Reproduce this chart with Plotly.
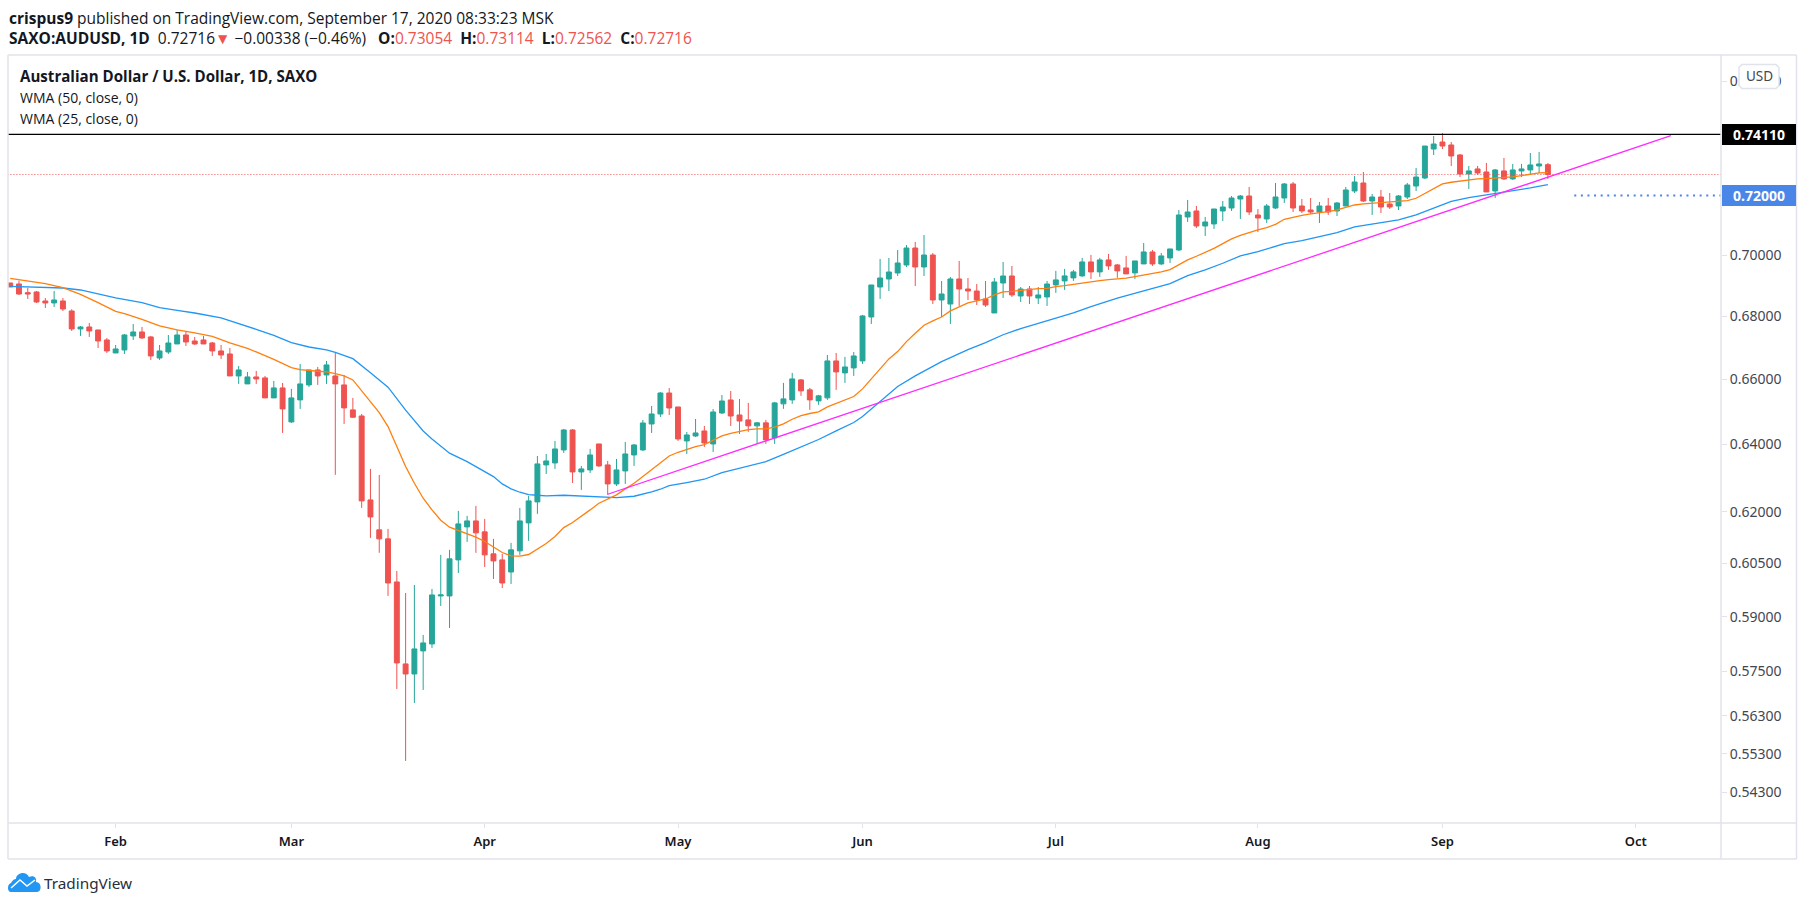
import pandas as pd
import plotly.graph_objects as go

# bars, 2020-01-16 .. 2020-09-17, prices
opens = [.6908, .69048, .68765, .68787, .68495, .68431, .68495, .68172, .67595, .67658, .67563, .67244, .66832, .66927, .67372, .67499,
         .67340, .66674, .66864, .67117, .67403, .67212, .67244, .67148, .66896, .66801, .66110, .65861, .66079, .66048, .65427, .65737,
         .64689, .65366, .65830, .66298, .66141, .66110, .65830, .65057, .64870, .62347, .61470, .61209, .59975, .57695, .57422, .58051,
         .58243, .59580, .59580, .60604, .61557, .61731, .61412, .60777, .60604, .60258, .60863, .61673, .62288, .63387, .63446, .63837,
         .64443, .63177, .63237, .64018, .63387, .62820, .63207, .63686, .63837, .64626, .64932, .65579, .65147, .64109, .64260, .64413,
         .64018, .64962, .65363, .64901, .64751, .64568, .64660, .64202, .65243, .65366, .65987, .65676, .65335, .65428, .66581, .66205,
         .66361, .66581, .67979, .68949, .69211, .69408, .69671, .70232, .69605, .70000, .68527, .68397, .69211, .68884, .68819, .68560,
         .68108, .69080, .69309, .68657, .68884, .68592, .68625, .69018, .69148, .69247, .69312, .69771, .69443, .69837, .69672, .69574,
         .69410, .69705, .70101, .69705, .69903, .70167, .71270, .71472, .70967, .71035, .71472, .71573, .71878, .71980, .71337, .71203,
         .71573, .71912, .72390, .71641, .71506, .71438, .71641, .71472, .71641, .72151, .72424, .71810, .71946, .71709, .71641, .71946,
         .72321, .72595, .73597, .73841, .73737, .73390, .72734, .72907, .72803, .72152, .72838, .72563, .72838, .72872, .73010, .73054]
highs = [.6908, .69156, .68917, .68819, .68592, .68819, .68592, .68226, .67690, .67787, .67563, .67308, .67085, .67435, .67755, .67658,
         .67372, .67085, .67403, .67563, .67499, .67340, .67372, .67180, .67085, .66990, .66423, .66235, .66266, .66110, .65954, .65892,
         .65706, .66486, .66298, .66392, .66580, .66864, .66141, .65427, .64932, .63267, .63087, .61499, .60287, .59664, .59890, .58491,
         .59776, .60748, .60892, .62024, .61878, .62171, .61790, .61209, .60777, .61094, .62112, .62465, .63656, .63716, .64109, .64474,
         .64474, .63357, .63867, .64018, .63506, .63566, .64079, .64018, .64748, .65178, .65610, .65734, .65147, .64382, .64779, .64565,
         .65085, .65517, .65641, .65394, .65273, .64690, .64751, .65304, .65893, .66205, .66017, .65738, .65521, .66770, .66833, .66707,
         .66864, .68044, .69015, .69868, .69901, .70166, .70332, .70432, .70665, .70066, .69146, .69277, .69803, .69244, .69047, .69146,
         .69244, .69770, .69638, .68949, .68982, .68949, .69146, .69476, .69540, .69509, .69903, .70002, .69903, .70035, .69705, .69969,
         .69804, .70399, .70167, .70068, .70200, .71506, .71844, .71641, .71270, .71540, .71810, .71980, .72014, .72287, .71540, .71709,
         .72424, .72424, .72458, .71878, .71912, .71777, .71912, .71777, .72287, .72664, .72802, .72048, .72185, .72082, .72014, .72424,
         .72939, .73701, .74051, .74156, .73842, .73425, .73010, .73010, .73114, .72907, .73286, .73079, .73079, .73459, .73494, .73114]
lows = [.6895, .68689, .68560, .68431, .68269, .68301, .68172, .67531, .67372, .67340, .66990, .66832, .66832, .66801, .67244, .67276,
        .66611, .66611, .66801, .67117, .67053, .67085, .67117, .66738, .66643, .66110, .65861, .65861, .65861, .65427, .65427, .64354,
        .64658, .65088, .65768, .65830, .65861, .63090, .64628, .64811, .62112, .61238, .60806, .59580, .57017, .55109, .56641, .56990,
        .58133, .59299, .58685, .60230, .61122, .60806, .60402, .60060, .59805, .59918, .60748, .61151, .61936, .63117, .63267, .63747,
        .62850, .62642, .63147, .63327, .62495, .62761, .62820, .63357, .63807, .64352, .64840, .64901, .64109, .63716, .64230, .63928,
        .63777, .64932, .64565, .64321, .64385, .64019, .64019, .64019, .65089, .65243, .65490, .65058, .65212, .65366, .65676, .65893,
        .66111, .66487, .67755, .68560, .68819, .69309, .69605, .68982, .69309, .68397, .67979, .67755, .68333, .68527, .68365, .68301,
        .68108, .68592, .68625, .68462, .68397, .68397, .68333, .68757, .68855, .69148, .69279, .69214, .69279, .69509, .69247, .69378,
        .69214, .69705, .69640, .69672, .69738, .70134, .71102, .70900, .70633, .70867, .71135, .71472, .71203, .71337, .70766, .71068,
        .71540, .71743, .71438, .71404, .71371, .71068, .71337, .71303, .71641, .72082, .71777, .71337, .71404, .71540, .71506, .71878,
        .72151, .72560, .73389, .73597, .73010, .72631, .72220, .72700, .72118, .71914, .72529, .72529, .72631, .72700, .72769, .72562]
closes = [.6895, .68721, .68721, .68463, .68431, .68527, .68236, .67595, .67658, .67531, .67212, .66896, .66959, .67403, .67499, .67308,
          .66738, .66896, .67148, .67403, .67180, .67117, .67117, .66896, .66769, .66110, .66298, .66079, .66016, .65427, .65737, .65088,
          .65427, .65861, .66298, .66110, .66455, .65861, .65119, .64831, .62318, .61848, .61209, .59946, .57722, .57422, .58106, .58271,
          .59608, .59608, .60633, .61644, .61731, .61383, .60748, .60575, .59946, .60892, .61731, .62318, .63417, .63506, .63867, .64443,
          .63177, .63267, .63686, .63357, .62820, .63237, .63716, .63988, .64656, .64932, .65579, .65116, .64169, .64291, .64352, .64048,
          .64993, .65332, .64870, .64717, .64568, .64660, .64141, .65273, .65397, .66017, .65645, .65366, .65490, .66581, .66236, .66392,
          .66738, .68012, .69015, .69244, .69440, .69737, .70232, .69605, .70000, .68527, .68722, .69211, .68884, .68819, .68527, .68365,
          .69113, .69309, .68690, .68884, .68657, .68690, .69047, .69181, .69312, .69443, .69771, .69443, .69837, .69640, .69476, .69378,
          .69804, .70101, .69705, .69969, .70200, .71337, .71438, .70967, .71102, .71540, .71607, .71912, .71980, .71438, .71236, .71641,
          .71946, .72390, .71573, .71472, .71438, .71641, .71438, .71743, .72185, .72458, .71810, .71946, .71607, .71607, .71980, .72356,
          .72629, .73701, .73771, .73701, .73355, .72734, .72838, .72769, .72118, .72872, .72563, .72872, .72907, .73045, .73079, .72716]

# (bar number, value)
wma25_bars = [1, 3, 5, 7, 9, 11, 13, 14, 16, 18, 20, 22, 24, 26, 28, 29, 31, 33, 34, 36, 37, 38, 39, 40, 41, 42, 43, 44, 45, 46, 47, 48, 49, 50,
              51, 52, 53, 54, 55, 56, 57, 58, 59, 60, 61, 62, 63, 64, 65, 66, 67, 68, 69, 70, 71, 72, 73, 74, 75, 76, 77, 78, 79, 80, 81, 82, 83, 84,
              85, 86, 87, 88, 89, 90, 91, 92, 93, 94, 95, 96, 97, 98, 99, 100, 101, 102, 103, 104, 105, 106, 107, 108, 109, 110, 111, 112, 113, 114,
              115, 116, 117, 118, 119, 120, 121, 122, 123, 124, 125, 126, 127, 128, 129, 130, 131, 132, 133, 134, 135, 136, 137, 138, 139, 140, 141,
              142, 143, 144, 145, 146, 147, 148, 149, 150, 151, 152, 153, 154, 155, 156, 157, 158, 159, 160, 161, 162, 163, 164, 165, 166, 167, 168,
              169, 170, 171, 172, 173, 174, 175, 176]
wma25_vals = [.69233, .69156, .69058, .68928, .68711, .68441, .68161, .68086, .67905, .67690, .67563, .67467, .67361, .67148, .66979, .66864,
              .66632, .66371, .66308, .66256, .66235, .66183, .66110, .65985, .65654, .65314, .64975, .64546, .63940, .63339, .62840, .62396,
              .62053, .61751, .61547, .61450, .61373, .61257, .61132, .60978, .60815, .60719, .60710, .60758, .60911, .61074, .61277, .61537,
              .61683, .61858, .62053, .62249, .62377, .62495, .62672, .62840, .63038, .63237, .63456, .63656, .63767, .63857, .63938, .63998,
              .64119, .64261, .64342, .64403, .64456, .64477, .64477, .64528, .64629, .64771, .64884, .64946, .64997, .65150, .65253, .65356,
              .65469, .65707, .66007, .66329, .66644, .66875, .67192, .67457, .67713, .67851, .67979, .68173, .68312, .68430, .68495, .68560,
              .68690, .68787, .68809, .68841, .68884, .68895, .68906, .68964, .68996, .69040, .69094, .69127, .69159, .69192, .69214, .69236,
              .69290, .69334, .69389, .69443, .69519, .69683, .69837, .69958, .70079, .70222, .70377, .70533, .70655, .70755, .70833, .70911,
              .71023, .71191, .71270, .71326, .71371, .71404, .71449, .71506, .71596, .71675, .71709, .71732, .71755, .71766, .71777, .71822,
              .71903, .72062, .72243, .72392, .72449, .72495, .72529, .72563, .72575, .72586, .72609, .72631, .72677, .72734, .72769, .72780]
wma50_bars = [1, 3, 5, 7, 9, 11, 13, 16, 18, 20, 22, 25, 27, 29, 31, 33, 35, 37, 38, 40, 42, 44, 46, 48, 49, 50, 51, 53, 54, 56, 57, 58, 59, 60,
              61, 62, 64, 66, 68, 70, 72, 73, 74, 75, 76, 78, 80, 82, 84, 85, 87, 89, 91, 93, 95, 97, 98, 100, 102, 104, 105, 107, 108, 110, 112, 114,
              116, 119, 122, 124, 127, 130, 133, 135, 137, 139, 141, 143, 145, 146, 148, 150, 152, 154, 157, 159, 161, 163, 165, 167, 169, 171, 173,
              174, 176]
wma50_vals = [.68971, .68961, .68950, .68917, .68852, .68732, .68592, .68441, .68279, .68193, .68107, .67947, .67776, .67584, .67393, .67159,
              .67021, .66927, .66853, .66653, .66213, .65760, .65050, .64410, .64169, .63950, .63740, .63486, .63337, .63038, .62820, .62672,
              .62573, .62505, .62485, .62465, .62485, .62455, .62446, .62416, .62455, .62514, .62583, .62662, .62771, .62860, .62959, .63157,
              .63297, .63356, .63485, .63705, .63938, .64152, .64415, .64670, .64853, .65315, .65779, .66111, .66267, .66560, .66685, .66938,
              .67160, .67410, .67607, .67860, .68111, .68315, .68584, .68823, .69062, .69323, .69509, .69727, .69969, .70112, .70277, .70377,
              .70477, .70611, .70744, .70934, .71079, .71169, .71337, .71563, .71795, .71926, .72016, .72118, .72197, .72254, .72369]

trend_bars = [69, 190]
trend_vals = [.62514, .74062]
resistance = .7411
support = .72
last_price = .72716
blue_start_bar = 179

month_bars = [13, 33, 55, 77, 98, 120, 143, 164, 186]
month_names = ["Feb", "Mar", "Apr", "May", "Jun", "Jul", "Aug", "Sep", "Oct"]
price_ticks = [.76, .70, .68, .66, .64, .62, .605, .59, .575, .563, .553, .543]

# index 0 is one bar before the first candle so lines can run off the left edge
all_dates = pd.bdate_range("2020-01-15", periods=198).strftime("%Y-%m-%d").tolist()
bar_dates = all_dates[1:177]

W, H = 1805, 906
L, R, T, B = 8, 1721, 55, 823


def px(x):
    return (x - L) / (R - L)


def py(y):
    return (B - y) / (B - T)


GREEN = "#26a69a"
RED = "#ef5350"
BORDER = "#e0e3eb"
TEXT = "#131722"

fig = go.Figure()
fig.add_trace(go.Candlestick(x=bar_dates, open=opens, high=highs, low=lows, close=closes,
                             increasing=dict(line=dict(color=GREEN, width=1), fillcolor=GREEN),
                             decreasing=dict(line=dict(color=RED, width=1), fillcolor=RED),
                             whiskerwidth=0, showlegend=False))
fig.add_trace(go.Scatter(x=[all_dates[0], all_dates[-1]], y=[last_price, last_price], mode="lines",
                         line=dict(color=RED, width=1, dash="1px,2px")))
fig.add_trace(go.Scatter(x=[all_dates[0], all_dates[-1]], y=[resistance, resistance], mode="lines",
                         line=dict(color="#000000", width=1.3)))
fig.add_trace(go.Scatter(x=[all_dates[blue_start_bar], all_dates[-1]], y=[support, support], mode="lines",
                         line=dict(color="#4a86e8", width=2, dash="2px,4.6px")))
fig.add_trace(go.Scatter(x=[all_dates[b] for b in wma50_bars], y=wma50_vals, mode="lines",
                         line=dict(color="#2196f3", width=1.3)))
fig.add_trace(go.Scatter(x=[all_dates[b] for b in wma25_bars], y=wma25_vals, mode="lines",
                         line=dict(color="#ff7f0e", width=1.3)))
fig.add_trace(go.Scatter(x=[all_dates[b] for b in trend_bars], y=trend_vals, mode="lines",
                         line=dict(color="#ff2bff", width=1.3)))

fig.update_layout(width=W, height=H, margin=dict(l=L, r=W - R, t=T, b=H - B), autosize=False,
                  showlegend=False, paper_bgcolor="white", plot_bgcolor="white", boxgap=0.2,
                  font=dict(family="Noto Sans", size=13, color=TEXT))
fig.update_xaxes(type="category", categoryorder="array", categoryarray=all_dates, range=[0.75, 195.7],
                 rangeslider_visible=False, showgrid=False, zeroline=False, showline=False,
                 tickmode="array", tickvals=[all_dates[b] for b in month_bars], ticktext=month_names,
                 ticks="outside", ticklen=4, tickcolor=BORDER, tickangle=0, automargin=False,
                 ticklabelstandoff=2,
                 tickfont=dict(family="Noto Sans", size=13, color=TEXT, weight=600))
fig.update_yaxes(type="log", side="right", range=[-0.27152, -0.11384], showgrid=False, zeroline=False, showline=False,
                 tickmode="array", tickvals=price_ticks, ticktext=["%.5f" % v for v in price_ticks],
                 ticks="outside", ticklen=5, tickcolor=BORDER, automargin=False,
                 tickfont=dict(family="Noto Sans", size=14, color="#434651"))


def line_shape(x0, y0, x1, y1):
    fig.add_shape(type="line", xref="paper", yref="paper", x0=px(x0), y0=py(y0), x1=px(x1), y1=py(y1),
                  line=dict(color=BORDER, width=1.5), layer="above")


def box_shape(x0, y0, x1, y1, color):
    fig.add_shape(type="rect", xref="paper", yref="paper", x0=px(x0), y0=py(y0), x1=px(x1), y1=py(y1),
                  fillcolor=color, line=dict(width=0), layer="above")


def text(x, y, s, size=13.5, color=TEXT, anchor="left", family="Open Sans"):
    fig.add_annotation(xref="paper", yref="paper", x=px(x), y=py(y), text=s, showarrow=False, align=anchor,
                       xanchor=anchor, yanchor="middle", xshift=0, borderpad=0,
                       font=dict(family=family, size=size, color=color))


# pane frame
line_shape(8, 55, 1796.5, 55)
line_shape(8, 55, 8, 859)
line_shape(1796.5, 55, 1796.5, 859)
line_shape(8, 859, 1796.5, 859)
line_shape(1721, 55, 1721, 859)
line_shape(8, 823, 1796.5, 823)

# price labels on the axis
box_shape(1722, 124, 1796, 145, "#000000")
box_shape(1722, 185, 1796, 206, "#4a86e8")
text(1759, 134.5, "<b>0.74110</b>", 14, "white", "center", "Noto Sans")
text(1759, 195.5, "<b>0.72000</b>", 14, "white", "center", "Noto Sans")

# USD button
r = 3
x0, y0, x1, y1 = 1739, 64.5, 1779, 88.5
pts = [(x0 + r, y0), (x1 - r, y0), (x1, y0 + r), (x1, y1 - r), (x1 - r, y1), (x0 + r, y1), (x0, y1 - r), (x0, y0 + r)]
fig.add_shape(type="path", xref="paper", yref="paper",
              path="M " + " L ".join(f"{px(a):.5f},{py(b):.5f}" for a, b in pts) + " Z",
              fillcolor="white", line=dict(color=BORDER, width=1.5), layer="above")
text(1759, 76, "USD", 13.5, "#434651", "center", "Noto Sans")

# header
text(8, 18, "<b>crispus9</b> published on TradingView.com, September 17, 2020 08:33:23 MSK", 15.5)
text(8, 38, f"<b>SAXO:AUDUSD, 1D</b>&nbsp; 0.72716<span style='color:{RED}'>▼</span>&nbsp;−0.00338 (−0.46%)&nbsp;&nbsp; "
            f"<b>O:</b><span style='color:{RED}'>0.73054</span>&nbsp;&nbsp;<b>H:</b><span style='color:{RED}'>0.73114</span>&nbsp;&nbsp;"
            f"<b>L:</b><span style='color:{RED}'>0.72562</span>&nbsp;&nbsp;<b>C:</b><span style='color:{RED}'>0.72716</span>", 15.5)

# legend
text(19, 76, "<b>Australian Dollar / U.S. Dollar, 1D, SAXO</b>", 15.1)
text(19, 97.5, "WMA (50, close, 0)", 14)
text(19, 118, "WMA (25, close, 0)", 14)


def P(x, y):
    return f"{px(x):.5f},{py(y):.5f}"


# footer logo: cloud with a white zigzag
cloud = (f"M {P(11, 892)} C {P(7, 892)} {P(7, 884)} {P(11, 883)} C {P(12, 881)} {P(14, 879)} {P(16, 879)} "
         f"C {P(16, 873)} {P(26, 870)} {P(29, 877)} C {P(34, 875)} {P(37, 878)} {P(36, 882)} "
         f"C {P(42, 882)} {P(42, 892)} {P(37, 892)} Z")
fig.add_shape(type="path", xref="paper", yref="paper", path=cloud, fillcolor="#2196f3", line=dict(width=0), layer="above")
zigzag = f"M {P(11, 888)} L {P(20, 880)} L {P(27, 886)} L {P(35, 880)}"
fig.add_shape(type="path", xref="paper", yref="paper", path=zigzag, line=dict(color="white", width=1.5), layer="above")
text(42.5, 883, "TradingView", 15.3, "#2a2e39", "left", "Noto Sans")

fig.write_html("out.html", config=dict(displayModeBar=False),
               post_script="document.body.style.margin='0';")
